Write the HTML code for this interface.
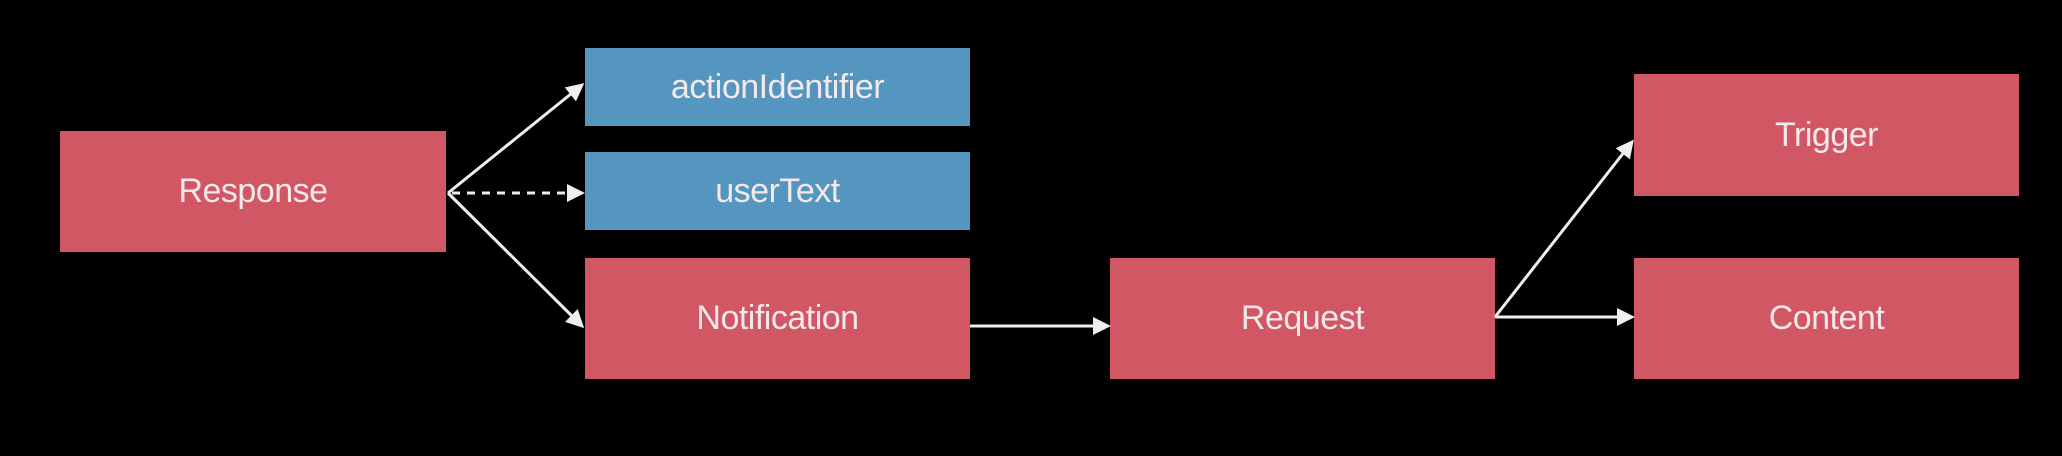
<!DOCTYPE html>
<html><head><meta charset="utf-8"><style>
html,body{margin:0;padding:0;background:#000;}
body{width:2062px;height:456px;position:relative;overflow:hidden;font-family:"Liberation Sans",sans-serif;}
.b{position:absolute;display:flex;align-items:center;justify-content:center;color:#f4e8ea;font-size:34px;letter-spacing:-0.5px;}
.r{background:#d05763;}
.u{background:#5596c0;}
svg{position:absolute;left:0;top:0;}
</style></head><body>
<div class="b r" style="left:60px;top:131px;width:386px;height:121px;">Response</div>
<div class="b u" style="left:585px;top:48px;width:385px;height:78px;">actionIdentifier</div>
<div class="b u" style="left:585px;top:152px;width:385px;height:78px;">userText</div>
<div class="b r" style="left:585px;top:258px;width:385px;height:121px;">Notification</div>
<div class="b r" style="left:1110px;top:258px;width:385px;height:121px;">Request</div>
<div class="b r" style="left:1634px;top:74px;width:385px;height:122px;">Trigger</div>
<div class="b r" style="left:1634px;top:258px;width:385px;height:121px;">Content</div>
<svg width="2062" height="456">
<defs><marker id="a" markerWidth="6" markerHeight="6" refX="5" refY="3" orient="auto" markerUnits="strokeWidth"><path d="M0,0 L6,3 L0,6 z" fill="#eee"/></marker></defs>
<g stroke="#eee" stroke-width="3" fill="none">
<line x1="448" y1="193" x2="582" y2="85" marker-end="url(#a)"/>
<line x1="452" y1="193" x2="582" y2="193" stroke-dasharray="8,7" marker-end="url(#a)"/>
<line x1="448" y1="193" x2="582" y2="326" marker-end="url(#a)"/>
<line x1="970" y1="326" x2="1108" y2="326" marker-end="url(#a)"/>
<line x1="1495" y1="317" x2="1632" y2="142" marker-end="url(#a)"/>
<line x1="1495" y1="317" x2="1632" y2="317" marker-end="url(#a)"/>
</g>
</svg>
</body></html>
